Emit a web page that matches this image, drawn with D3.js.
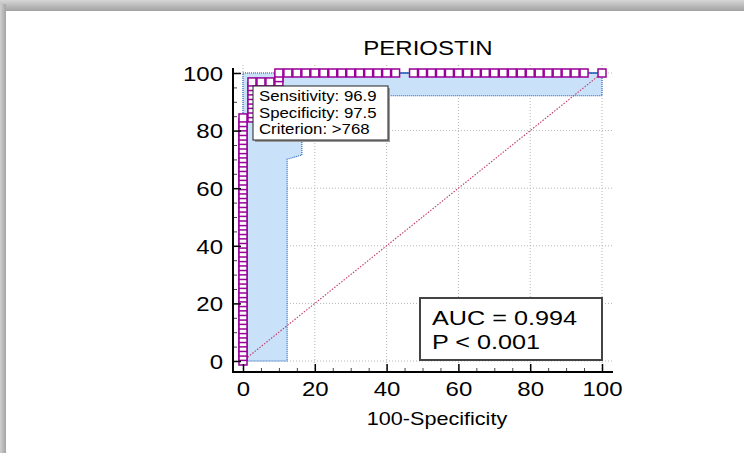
<!DOCTYPE html>
<html>
<head>
<meta charset="utf-8">
<script src="https://cdn.jsdelivr.net/npm/d3@7"></script>
<style>
  body { margin: 0; background: #fff; }
  svg { display: block; font-family: "Liberation Sans", Arial, sans-serif; }
</style>
</head>
<body>
<div id="chart"></div>
<script>
// ROC points (100-Specificity, Sensitivity)
var rocX = [0, 0, 0, 0, 0, 0, 0, 0, 0, 0, 0, 0, 0, 0, 0, 0, 0, 0, 0, 0, 0, 0, 0, 0, 0, 0, 0, 0,
  0, 0, 0, 0, 0, 0, 0, 0, 0, 0, 0, 0, 0, 0, 0, 0, 0, 0, 0, 0, 0, 0, 0, 0, 0, 0, 0,
  2.5, 2.5, 2.5, 2.5, 2.5, 2.5, 2.5, 2.5, 2.5,
  5, 7.5, 10, 10, 10,
  12.5, 15, 17.5, 20, 22.5, 25, 27.5, 30, 32.5, 35, 37.5, 40, 42.5,
  47.5, 50, 52.5, 55, 57.5, 60, 62.5, 65, 67.5, 70, 72.5, 75, 77.5, 80, 82.5, 85, 87.5, 90, 92.5, 95,
  100];
var rocY = [0, 1.6, 3.1, 4.7, 6.3, 7.8, 9.4, 10.9, 12.5, 14.1, 15.6, 17.2, 18.8, 20.3, 21.9, 23.4,
  25.0, 26.6, 28.1, 29.7, 31.3, 32.8, 34.4, 35.9, 37.5, 39.1, 40.6, 42.2, 43.8, 45.3, 46.9, 48.4,
  50.0, 51.6, 53.1, 54.7, 56.3, 57.8, 59.4, 60.9, 62.5, 64.1, 65.6, 67.2, 68.8, 70.3, 71.9, 73.4,
  75.0, 76.6, 78.1, 79.7, 81.3, 82.8, 84.4,
  84.4, 85.9, 87.5, 89.1, 90.6, 92.2, 93.8, 95.3, 96.9,
  96.9, 96.9, 96.9, 98.4, 100,
  100, 100, 100, 100, 100, 100, 100, 100, 100, 100, 100, 100, 100,
  100, 100, 100, 100, 100, 100, 100, 100, 100, 100, 100, 100, 100, 100, 100, 100, 100, 100, 100, 100,
  100];

// confidence band outline
var bandX = [0, 0, 100, 100, 16.4, 16.4, 12.3, 12.3];
var bandY = [0, 100, 100, 92.1, 92.1, 71.5, 70.1, 0];

var xTicks = [0, 20, 40, 60, 80, 100];
var yTicks = [0, 20, 40, 60, 80, 100];
var minorTicks = [5, 10, 15, 25, 30, 35, 45, 50, 55, 65, 70, 75, 85, 90, 95];

var titleText = "PERIOSTIN";
var xLabel = "100-Specificity";
var infoLines = ["Sensitivity: 96.9", "Specificity: 97.5", "Criterion: >768"];
var aucLines = ["AUC = 0.994", "P < 0.001"];

var svgWidth = 744, svgHeight = 453;
var stretch = 1.2; // text in the picture is a bit wider than normal

var svg = d3.select("#chart").append("svg")
  .attr("width", svgWidth)
  .attr("height", svgHeight);

// gray shadow round the white panel
var defs = svg.append("defs");
var gTop = defs.append("linearGradient").attr("id", "shTop").attr("x1", 0).attr("y1", 0).attr("x2", 0).attr("y2", 1);
gTop.append("stop").attr("offset", "0%").attr("stop-color", "#d6d6d6");
gTop.append("stop").attr("offset", "100%").attr("stop-color", "#a2a2a2");
var gLeft = defs.append("linearGradient").attr("id", "shLeft").attr("x1", 0).attr("y1", 0).attr("x2", 1).attr("y2", 0);
gLeft.append("stop").attr("offset", "0%").attr("stop-color", "#d0d0d0");
gLeft.append("stop").attr("offset", "100%").attr("stop-color", "#a4a4a4");

svg.append("rect").attr("width", svgWidth).attr("height", 11).attr("fill", "url(#shTop)");
svg.append("rect").attr("y", 4).attr("width", 6).attr("height", svgHeight - 4).attr("fill", "url(#shLeft)");
svg.append("rect").attr("x", 6).attr("y", 11).attr("width", svgWidth - 6).attr("height", svgHeight - 11).attr("fill", "#fff");

// scales
var x = d3.scaleLinear().domain([0, 100]).range([243, 602]);
var y = d3.scaleLinear().domain([0, 100]).range([361, 73]);

var axisX = 233, axisY = 372;

// grid
svg.append("g").selectAll("line")
  .data(yTicks)
  .enter().append("line")
  .attr("x1", axisX).attr("x2", 613)
  .attr("y1", d => y(d)).attr("y2", d => y(d))
  .attr("stroke", "#b4b4b4").attr("stroke-dasharray", "1,2");
svg.append("g").selectAll("line")
  .data(xTicks)
  .enter().append("line")
  .attr("x1", d => x(d)).attr("x2", d => x(d))
  .attr("y1", 65).attr("y2", axisY)
  .attr("stroke", "#b4b4b4").attr("stroke-dasharray", "1,2");

// confidence band
var band = bandX.map((v, i) => [x(v), y(bandY[i])]);
svg.append("path")
  .attr("d", d3.line()(band) + "Z")
  .attr("fill", "#c9e2fa")
  .attr("stroke", "#1b5cb8")
  .attr("stroke-width", 1.1)
  .attr("stroke-dasharray", "1,1");

// reference diagonal
svg.append("line")
  .attr("x1", x(0)).attr("y1", y(0))
  .attr("x2", x(100)).attr("y2", y(100))
  .attr("stroke", "#c23a68")
  .attr("stroke-width", 1.1)
  .attr("stroke-dasharray", "1.5,1.5");

// ROC curve
var pts = rocX.map((v, i) => [x(v), y(rocY[i])]);
svg.append("path")
  .attr("d", d3.line()(pts))
  .attr("fill", "none")
  .attr("stroke", "#1f5fbf")
  .attr("stroke-width", 1.6);

svg.append("g").selectAll("rect")
  .data(pts)
  .enter().append("rect")
  .attr("x", d => d[0] - 4)
  .attr("y", d => d[1] - 4)
  .attr("width", 8)
  .attr("height", 8)
  .attr("fill", "#fff")
  .attr("stroke", "#990099")
  .attr("stroke-width", 1.5);

// axes
var xAxis = d3.axisBottom(x).tickValues(xTicks).tickSizeInner(-8).tickSizeOuter(0).tickPadding(11);
var yAxis = d3.axisLeft(y).tickValues(yTicks).tickSizeInner(-8).tickSizeOuter(0).tickPadding(10);

var gx = svg.append("g").attr("transform", `translate(0, ${axisY})`).call(xAxis);
var gy = svg.append("g").attr("transform", `translate(${axisX}, 0)`).call(yAxis);

svg.append("g").attr("transform", `translate(0, ${axisY})`)
  .call(d3.axisBottom(x).tickValues(minorTicks).tickSizeInner(-4).tickSizeOuter(0).tickFormat(""))
  .call(g => g.select(".domain").remove())
  .selectAll("line").attr("stroke", "#444");
svg.append("g").attr("transform", `translate(${axisX}, 0)`)
  .call(d3.axisLeft(y).tickValues(minorTicks).tickSizeInner(-4).tickSizeOuter(0).tickFormat(""))
  .call(g => g.select(".domain").remove())
  .selectAll("line").attr("stroke", "#444");

[gx, gy].forEach(function(g) {
  g.select(".domain").remove();
  g.selectAll(".tick line").attr("stroke", "#000").attr("stroke-width", 1.5);
  g.selectAll("text").attr("font-size", "20px").attr("fill", "#000")
    .attr("font-family", "Liberation Sans, Arial, sans-serif");
});
gx.selectAll("text").attr("dy", null).attr("y", 24)
  .attr("transform", `scale(${stretch},1)`);
gy.selectAll("text").attr("x", null).attr("dy", "0.36em")
  .attr("transform", `translate(-10,0) scale(${stretch},1)`);

svg.append("line").attr("x1", axisX).attr("x2", axisX).attr("y1", 68).attr("y2", axisY + 1)
  .attr("stroke", "#000").attr("stroke-width", 2);
svg.append("line").attr("x1", axisX - 1).attr("x2", 613).attr("y1", axisY).attr("y2", axisY)
  .attr("stroke", "#000").attr("stroke-width", 2);

// title and axis label
svg.append("text")
  .attr("transform", `translate(428, 55) scale(${stretch},1)`)
  .attr("text-anchor", "middle")
  .attr("font-size", "20px")
  .text(titleText);

svg.append("text")
  .attr("transform", `translate(437, 425) scale(${stretch},1)`)
  .attr("text-anchor", "middle")
  .attr("font-size", "18px")
  .text(xLabel);

// criterion box
svg.append("rect").attr("x", 255).attr("y", 88).attr("width", 135).attr("height", 54).attr("fill", "#999");
svg.append("rect").attr("x", 253).attr("y", 86).attr("width", 135).attr("height", 54)
  .attr("fill", "#fff").attr("stroke", "#222").attr("stroke-width", 1);
svg.append("g").selectAll("text")
  .data(infoLines)
  .enter().append("text")
  .attr("transform", (d, i) => `translate(259, ${101 + i * 16.5}) scale(${stretch},1)`)
  .attr("font-size", "14px")
  .text(d => d);

// AUC box
svg.append("rect").attr("x", 420).attr("y", 298).attr("width", 182).attr("height", 62)
  .attr("fill", "#fff").attr("stroke", "#444").attr("stroke-width", 2);
svg.append("g").selectAll("text")
  .data(aucLines)
  .enter().append("text")
  .attr("transform", (d, i) => `translate(432, ${325 + i * 24}) scale(${stretch},1)`)
  .attr("font-size", "21px")
  .text(d => d);
</script>
</body>
</html>
